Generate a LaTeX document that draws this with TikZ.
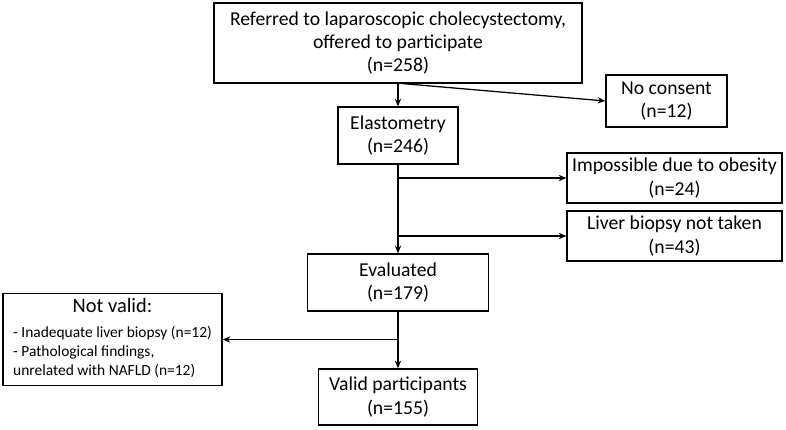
\documentclass[tikz,border=0pt]{standalone}
\usepackage{fontspec}
\setmainfont{Carlito}
\usetikzlibrary{arrows.meta}

\begin{document}
\begin{tikzpicture}[
  >={Stealth[length=5.5pt,width=4.5pt]},
  box/.style={rectangle, draw, line width=0.9pt, align=center, inner sep=2pt, font=\fontsize{14}{16.5}\selectfont},
  flow/.style={->, line width=0.9pt}
]
\useasboundingbox (0,0) rectangle (19.65,-10.75);

\node[box, minimum width=9.2cm, minimum height=2cm] (referred) at (9.95,-1.075) {Referred to laparoscopic cholecystectomy,\\offered to participate\\(n=258)};
\node[box, below of=referred, node distance=2.3125cm, minimum width=3cm, minimum height=1.425cm] (elasto) {Elastometry\\(n=246)};
\node[box, below of=elasto, node distance=3.675cm, minimum width=4.525cm, minimum height=1.425cm] (evaluated) {Evaluated\\(n=179)};
\node[box, below of=evaluated, node distance=2.8625cm, minimum width=3.975cm, minimum height=1.4cm] (valid) {Valid participants\\(n=155)};

\node[box, minimum width=3.025cm, minimum height=1.3cm] (nocons) at (16.6625,-2.525) {No consent\\(n=12)};
\node[box, minimum width=5.375cm, minimum height=1.25cm] (obesity) at (16.8625,-4.45) {Impossible due to obesity\\(n=24)};
\node[box, minimum width=5.375cm, minimum height=1.25cm] (biopsy) at (16.8625,-5.9) {Liver biopsy not taken\\(n=43)};
\node[box, minimum width=5.475cm, minimum height=2.275cm] (notvalid) at (2.8125,-8.4875)
  {\begin{tabular}{@{}l@{}}
   \multicolumn{1}{@{}c@{}}{\fontsize{14.5}{16.5}\selectfont Not valid:}\\[1pt]
   \fontsize{11}{12.5}\selectfont - Inadequate liver biopsy (n=12)\\[-3pt]
   \fontsize{11}{12.5}\selectfont - Pathological findings,\\[-3pt]
   \fontsize{11}{12.5}\selectfont unrelated with NAFLD (n=12)
   \end{tabular}};

\draw[flow] (referred) -- (elasto);
\draw[flow] ([xshift=0.125cm]referred.south) -- (nocons.west);
\draw[flow] (elasto) -- (evaluated);
\draw[flow] (elasto.south |- obesity.west) -- (obesity.west);
\draw[flow] (elasto.south |- biopsy.west) -- (biopsy.west);
\draw[flow] (evaluated) -- (valid);
\draw[flow] (evaluated.south |- notvalid.east) -- (notvalid.east);
\end{tikzpicture}
\end{document}
